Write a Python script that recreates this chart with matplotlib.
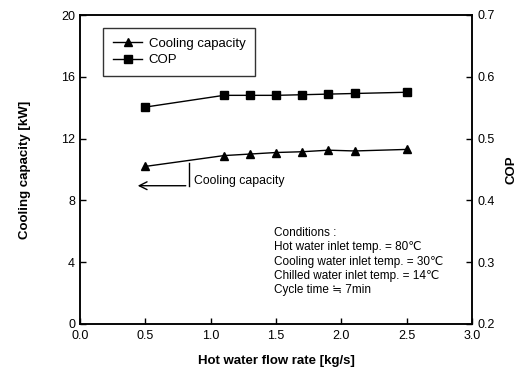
import matplotlib
matplotlib.use("Agg")
import matplotlib.pyplot as plt

plt.rcParams['font.family'] = ['Liberation Sans', 'DejaVu Sans']

flow = [0.5, 1.1, 1.3, 1.5, 1.7, 1.9, 2.1, 2.5]
capacity = [10.2, 10.9, 11.0, 11.1, 11.15, 11.25, 11.2, 11.3]
cop = [0.551, 0.570, 0.570, 0.570, 0.571, 0.572, 0.573, 0.575]

xticks = [0.0, 0.5, 1.0, 1.5, 2.0, 2.5, 3.0]
yticks_left = [0, 4, 8, 12, 16, 20]
yticks_right = [0.2, 0.3, 0.4, 0.5, 0.6, 0.7]

conditions = ["Conditions :",
              "Hot water inlet temp. = 80\u2103",
              "Cooling water inlet temp. = 30\u2103",
              "Chilled water inlet temp. = 14\u2103",
              "Cycle time \u2252 7min"]

fig = plt.figure(figsize=(5.3, 3.75), dpi=100)
ax = fig.add_axes([0.151, 0.136, 0.740, 0.824])
ax2 = ax.twinx()

l1, = ax.plot(flow, capacity, '-', color='black', marker='^', markersize=6, lw=1.0,
              label='Cooling capacity')
l2, = ax2.plot(flow, cop, '-', color='black', marker='s', markersize=6, lw=1.0,
               label='COP')

ax.set_xlim(0, 3.0)
ax.set_ylim(0, 20)
ax2.set_ylim(0.2, 0.7)
ax.set_xticks(xticks)
ax.set_xticklabels([f"{v:.1f}" for v in xticks])
ax.set_yticks(yticks_left)
ax2.set_yticks(yticks_right)
ax2.set_yticklabels([f"{v:.1f}" for v in yticks_right])

for a in (ax, ax2):
    a.tick_params(direction='in', length=4, labelsize=9, width=1)
    for s in a.spines.values():
        s.set_linewidth(1.1)
ax.tick_params(axis='x', pad=4)

ax.set_xlabel("Hot water flow rate [kg/s]", fontsize=9.5, fontweight='bold', labelpad=10)
ax.set_ylabel("Cooling capacity [kW]", fontsize=9.5, fontweight='bold', labelpad=22)
ax2.set_ylabel("COP", fontsize=9.5, fontweight='bold', labelpad=8)

leg = ax.legend(handles=[l1, l2], loc='upper left', bbox_to_anchor=(0.059, 0.958),
                borderaxespad=0, fontsize=9.5, frameon=True, fancybox=False,
                edgecolor='black', handlelength=2.2, borderpad=0.75,
                labelspacing=0.3, handletextpad=0.5)
leg.get_frame().set_linewidth(1.0)

# bracket + arrow annotation
ax.plot([0.83, 0.83], [10.45, 8.95], color='black', lw=1.0)
ax.annotate("", xy=(0.42, 8.95), xytext=(0.83, 8.95),
            arrowprops=dict(arrowstyle='->', color='black', lw=1.0, mutation_scale=14))
ax.text(0.87, 9.25, "Cooling capacity", fontsize=8.8, va='center', ha='left')

for i, line in enumerate(conditions):
    ax.text(1.48, 5.9 - i * 0.93, line, fontsize=8.5, va='center', ha='left')

fig.savefig("out.png", dpi=100)
